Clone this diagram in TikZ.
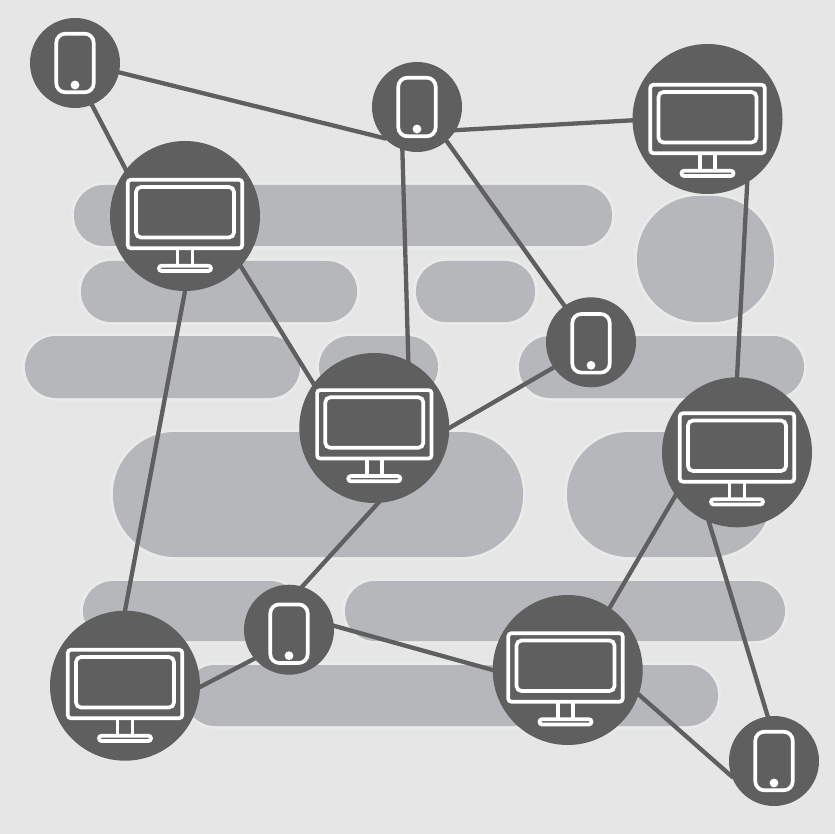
\documentclass[tikz,border=0pt]{standalone}
\usetikzlibrary{backgrounds}
\definecolor{bgc}{HTML}{E6E6E6}
\definecolor{haloc}{HTML}{EAEAEA}
\definecolor{pillc}{HTML}{B6B7BA}
\definecolor{darkc}{HTML}{5E5F5E}
\pgfdeclarelayer{pills}
\pgfdeclarelayer{edges}
\pgfsetlayers{pills,edges,main}
\newcommand{\pillshape}[5]{%
  \draw[line width=6pt,haloc,rounded corners=#5pt] (#1,#2) rectangle (#3,#4);
  \fill[pillc,rounded corners=#5pt] (#1,#2) rectangle (#3,#4);}
\tikzset{
  phonedisc/.style={circle,fill=darkc,minimum size=90pt,inner sep=0pt,outer sep=0pt},
  monitordisc/.style={circle,fill=darkc,minimum size=150pt,inner sep=0pt,outer sep=0pt},
  link/.style={draw=darkc,line width=4.3pt,shorten <=-2pt,shorten >=-2pt},
  iconline/.style={draw=white,line width=3.7pt},
  phoneicon/.pic={
    \draw[iconline,rounded corners=9pt] (-18.7,-29.3) rectangle (18.7,29.3);
    \fill[white] (0,22) circle (4.4pt);
  },
  monitoricon/.pic={
    \draw[iconline] (-7.5,34) -- (-7.5,52) (7.5,34) -- (7.5,52);
    \draw[iconline,rounded corners=3pt] (-57.2,-34.2) rectangle (57.2,34.2);
    \draw[iconline,rounded corners=5pt] (-49,-27) rectangle (49,23.5);
    \draw[iconline,rounded corners=2.6pt] (-26,51.7) rectangle (26,57);
  }
}
\begin{document}
\begin{tikzpicture}[x=1pt,y=-1pt]
\useasboundingbox (0,0) rectangle (835,834);
\begin{pgfonlayer}{pills}
\fill[bgc] (0,0) rectangle (835,834);
\pillshape{74}{185}{612}{246}{30}
\pillshape{81}{261}{357}{322}{30}
\pillshape{416}{261}{535}{322}{30}
\pillshape{25}{336}{300}{398}{31}
\pillshape{319}{336}{438}{398}{31}
\pillshape{519}{336}{804}{398}{31}
\pillshape{113}{432}{523}{557}{62}
\pillshape{567}{432}{772}{557}{62}
\pillshape{83}{581}{300}{641}{30}
\pillshape{345}{581}{785}{641}{30}
\pillshape{185}{665}{718}{726}{30}
\pillshape{637}{196}{774}{322}{62}
\end{pgfonlayer}

\node[phonedisc] (P1) at (75,63) {};
\node[phonedisc] (P2) at (417,107) {};
\node[phonedisc] (P3) at (591,342.3) {};
\node[phonedisc] (P4) at (289,629.7) {};
\node[phonedisc] (P5) at (774,761) {};
\node[monitordisc] (M1) at (185,216) {};
\node[monitordisc] (M2) at (707.5,119) {};
\node[monitordisc] (M3) at (374.3,428) {};
\node[monitordisc] (M4) at (737,452.3) {};
\node[monitordisc] (M5) at (125,685.7) {};
\node[monitordisc] (M6) at (567.7,670) {};

\pic at (P1) {phoneicon};
\pic at (P2) {phoneicon};
\pic at ([shift={(0,1)}]P3.center) {phoneicon};
\pic at ([shift={(0,4)}]P4.center) {phoneicon};
\pic at (P5) {phoneicon};
\pic at ([shift={(0,-2)}]M1.center) {monitoricon};
\pic at (M2) {monitoricon};
\pic at ([shift={(0,-3.7)}]M3.center) {monitoricon};
\pic at ([shift={(0,-4.8)}]M4.center) {monitoricon};
\pic at ([shift={(0,-1.7)}]M5.center) {monitoricon};
\pic at ([shift={(-2.2,-2.5)}]M6.center) {monitoricon};

\begin{pgfonlayer}{edges}
\draw[link] (P1.-12) -- (P2.224);
\draw[link] (P1.-68) -- (M1.142.5);
\draw[link] (P2.-31) -- (M2.-179);
\draw[link] (P2.-109) -- (M3.63);
\draw[link] (P2.-49.5) -- (P3.126);
\draw[link] (M2.-58) -- (M4.90);
\draw[link] (M1.-42) -- (M3.144);
\draw[link] (M1.-90) -- (M5.90);
\draw[link] (M3.0) -- (P3.214);
\draw[link] (M3.-87) -- (P4.73);
\draw[link] (P4.220.5) -- (M5.-1);
\draw[link] (P4.5) -- (M6.180);
\draw[link] (M6.56) -- (M4.215);
\draw[link] (M4.-112) -- (P5.98);
\draw[link] (M6.-19.3) -- (P5.200.7);
\end{pgfonlayer}
\end{tikzpicture}
\end{document}
